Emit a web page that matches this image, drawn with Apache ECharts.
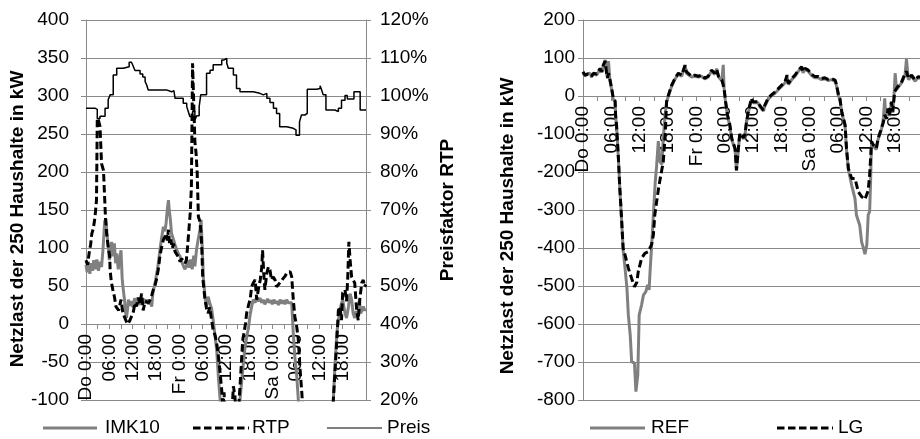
<!DOCTYPE html>
<html>
<head>
<meta charset="utf-8">
<script src="https://cdn.jsdelivr.net/npm/echarts@6/dist/echarts.min.js"></script>
<style>
  html, body { margin: 0; padding: 0; background: #fff; }
  #chart { width: 920px; height: 439px; }
</style>
</head>
<body>
<div id="chart"></div>
<script>
// Time axis: hours since Thursday 0:00, labelled every 6 h
const hourTicks = ['Do 0:00', '06:00', '12:00', '18:00', 'Fr 0:00', '06:00', '12:00', '18:00', 'Sa 0:00', '06:00', '12:00', '18:00'];

// Left panel: net load (kW) and price factor (%)
const imk10 = [[0,78],[0.3,68],[0.6,82],[1.0,66],[1.3,80],[1.7,70],[2.0,84],[2.4,72],[2.8,85],[3.2,70],[3.6,82],[4.0,75],[4.4,100],[4.8,135],[5.1,138],[5.4,120],[5.7,102],[6.0,84],[6.4,100],[6.6,108],[6.9,89],[7.3,106],[7.6,80],[7.9,93],[8.3,72],[8.6,85],[9.0,97],[9.3,60],[9.5,49],[9.9,32],[10.2,15],[10.4,8],[10.7,20],[10.9,32],[11.3,24],[11.7,30],[12.1,22],[12.5,34],[12.9,27],[13.3,33],[13.7,25],[14.1,32],[14.5,28],[14.9,33],[15.3,27],[15.7,32],[16.1,26],[16.5,30],[16.9,23],[17.2,41],[17.6,50],[17.9,58],[18.3,70],[18.6,80],[19.0,97],[19.4,112],[19.9,128],[20.3,122],[20.6,133],[20.9,150],[21.2,163],[21.4,150],[21.7,137],[22.0,119],[22.5,111],[22.9,104],[23.4,97],[23.8,92],[24.2,89],[24.6,82],[25.1,81],[25.4,72],[25.8,76],[26.2,84],[26.5,74],[26.9,85],[27.3,72],[27.7,90],[28.0,76],[28.4,97],[28.8,110],[29.3,124],[29.6,137],[29.9,100],[30.2,60],[30.6,36],[31.0,23],[31.4,36],[31.8,28],[32.3,20],[32.7,5],[33.1,-12],[33.6,-34],[34.1,-74],[34.5,-100],[35.0,-140],[37.0,-170],[39.0,-140],[39.6,-100],[40.3,-60],[40.9,-30],[41.4,-15],[41.8,-4],[42.2,12],[42.6,23],[43.0,32],[43.5,28],[43.9,36],[44.3,30],[44.8,34],[45.2,28],[45.6,32],[46.0,26],[46.3,27],[46.7,33],[47.1,28],[47.5,31],[47.9,26],[48.3,32],[48.7,27],[49.1,30],[49.5,25],[49.9,32],[50.4,27],[50.8,31],[51.2,26],[51.6,32],[52.0,28],[52.5,30],[52.9,28],[53.3,-12],[53.7,-43],[54.2,-69],[54.6,-100],[55.5,-160],[60.0,-200],[63.0,-150],[63.6,-100],[64.0,-56],[64.5,-12],[64.9,5],[65.5,23],[66.0,32],[66.6,14],[67.0,8],[67.5,23],[67.9,40],[68.3,32],[68.7,14],[69.1,8],[69.5,17],[69.9,10],[70.3,32],[70.6,14],[71.0,18],[71.3,23],[71.7,18],[72,20]];

const rtp = [[0,84],[0.4,78],[0.8,93],[1.2,105],[1.5,119],[1.9,126],[2.3,140],[2.7,163],[2.9,271],[3.2,268],[3.6,260],[4.0,211],[4.5,202],[5.0,141],[5.3,119],[5.7,102],[6.1,89],[6.2,71],[6.5,56],[6.9,45],[7.3,36],[7.7,23],[8.4,18],[9.0,32],[9.5,14],[10.0,8],[10.4,3],[10.8,0],[11.3,5],[11.7,10],[12.1,14],[12.6,28],[13.0,23],[13.4,35],[13.9,27],[14.3,40],[14.7,18],[15.2,30],[15.6,32],[16.1,28],[16.5,32],[16.9,38],[17.3,45],[17.7,50],[18.1,58],[18.6,72],[19.0,89],[19.4,100],[19.9,111],[20.3,115],[20.6,119],[20.9,110],[21.2,124],[21.5,105],[21.8,111],[22.2,100],[22.5,106],[22.9,95],[23.4,97],[23.8,88],[24.2,82],[24.6,86],[25.1,86],[25.5,80],[25.8,84],[26.1,100],[26.4,120],[26.8,146],[27.1,180],[27.4,343],[28.0,240],[28.3,225],[28.6,198],[28.9,141],[29.3,135],[29.6,119],[29.8,97],[30.0,62],[30.6,32],[31.0,20],[31.4,14],[31.8,22],[32.3,5],[32.7,-8],[33.2,-15],[33.6,-25],[34.0,-40],[34.5,-65],[34.9,-87],[35.2,-110],[35.5,-90],[35.8,-130],[37.0,-150],[37.6,-110],[37.9,-82],[38.3,-95],[38.6,-130],[39.2,-115],[39.5,-90],[39.8,-65],[40.3,-21],[40.6,-12],[41.0,0],[41.3,14],[41.8,25],[42.2,32],[42.6,49],[43.0,54],[43.5,58],[43.9,32],[44.3,45],[44.8,58],[45.2,75],[45.4,97],[45.7,67],[46.0,45],[46.5,67],[46.9,75],[47.3,71],[47.7,58],[48.1,62],[48.6,58],[49.0,49],[49.5,52],[49.9,54],[50.3,57],[50.7,60],[51.2,63],[51.6,67],[52.0,65],[52.5,69],[52.9,62],[53.3,32],[53.7,10],[54.2,-4],[54.6,-21],[55.0,-56],[55.5,-91],[56.0,-130],[60.0,-180],[63.2,-130],[63.6,-100],[64.0,-65],[64.5,-21],[64.9,18],[65.3,23],[65.7,5],[66.0,41],[66.6,45],[67.0,30],[67.3,60],[67.6,108],[67.9,85],[68.3,62],[68.7,58],[69.1,54],[69.6,18],[70.0,5],[70.4,32],[70.9,54],[71.3,58],[71.6,49],[72,52]];

// Price factor in percent, changes stepwise
const preis = [[0,96.8],[2.3,96.5],[2.9,94.1],[3.6,94.7],[4.9,96.8],[5.7,99.0],[6.2,100.3],[7.0,105.5],[7.9,107.3],[9.6,107.7],[11.1,108.9],[11.7,109.0],[12.2,107.7],[12.6,106.7],[13.9,105.8],[14.6,105.0],[15.2,103.8],[15.6,102.9],[16.0,101.6],[20.7,101.4],[21.2,101.1],[22.0,101.4],[22.6,101.1],[22.9,99.4],[25.0,98.1],[25.9,97.2],[26.3,95.9],[26.7,94.6],[27.4,95.9],[28.0,93.7],[28.5,94.8],[29.1,97.2],[29.5,100.3],[31.0,106.0],[31.9,106.8],[32.7,108.2],[34.9,109.5],[35.5,109.9],[36.2,108.6],[36.6,107.3],[37.9,105.5],[38.7,102.0],[39.6,101.1],[43.0,100.7],[44.7,100.3],[45.6,100.7],[46.5,99.4],[47.3,98.3],[48.2,96.8],[49.0,95.4],[49.8,91.9],[51.6,91.5],[53.3,91.1],[54.0,89.7],[54.9,93.2],[55.4,95.0],[56.3,95.4],[56.9,101.8],[59.3,102.0],[60.2,102.7],[60.6,101.6],[61.0,100.3],[61.7,96.3],[64.0,95.9],[64.9,96.8],[65.7,98.9],[66.6,100.1],[67.2,99.2],[68.9,101.1],[70.5,96.3],[72,96.3]];

// Right panel: net load (kW)
const ref = [[0,62],[0.4,52],[0.8,58],[1.1,55],[1.5,60],[1.8,50],[2.2,58],[2.5,62],[2.9,55],[3.2,52],[3.6,70],[4.0,62],[4.3,80],[4.7,95],[5.0,58],[5.2,46],[5.4,92],[5.7,40],[6.1,15],[6.4,-8],[6.8,-15],[6.9,-52],[7.1,-78],[7.5,-166],[7.8,-245],[8.2,-333],[8.5,-405],[8.9,-453],[9.3,-505],[9.6,-576],[10.0,-629],[10.3,-699],[10.9,-703],[11.2,-778],[11.6,-735],[11.9,-576],[12.4,-550],[12.8,-524],[13.3,-515],[13.7,-497],[14.0,-510],[14.2,-462],[14.5,-401],[14.9,-313],[15.3,-226],[15.6,-182],[15.95,-119],[16.3,-173],[16.7,-180],[17.0,-110],[17.4,-50],[17.7,-15],[18.1,0],[18.8,27],[19.5,45],[20.2,57],[20.9,52],[21.6,82],[21.9,60],[22.3,65],[23.0,50],[23.7,52],[24.4,50],[25.1,52],[25.8,45],[26.5,50],[27.2,65],[27.9,57],[28.3,72],[28.7,50],[29.0,52],[29.4,40],[29.7,82],[29.9,15],[30.2,-18],[30.6,-53],[31.1,-80],[31.5,-115],[32.2,-140],[32.5,-197],[32.9,-140],[33.2,-100],[33.6,-106],[34.0,-113],[34.3,-103],[34.6,-73],[35.0,-44],[35.4,-23],[35.7,-9],[36.0,-18],[36.4,-22],[37.1,-18],[37.4,-27],[38.2,-40],[38.5,-27],[39.2,-9],[39.9,0],[40.7,8],[41.4,17],[42.1,26],[42.8,35],[43.2,52],[43.5,30],[44.2,43],[44.9,52],[45.6,65],[46.0,70],[46.3,74],[46.6,61],[47.0,70],[47.7,65],[48.4,54],[49.1,48],[49.8,48],[50.5,43],[51.2,45],[51.9,41],[52.6,43],[53.4,39],[53.7,26],[54.1,0],[54.4,-9],[54.8,-44],[55.5,-79],[55.8,-141],[56.2,-194],[56.9,-235],[57.6,-270],[57.9,-313],[58.6,-340],[59.0,-384],[59.4,-401],[59.7,-416],[60.1,-392],[60.4,-313],[60.7,-304],[60.9,-226],[61.1,-123],[61.5,-132],[62.1,-141],[62.5,-114],[63.2,-88],[63.6,-60],[63.9,-6],[64.1,-55],[64.6,-36],[64.9,-53],[65.3,-18],[65.6,-44],[65.9,10],[66.1,60],[66.4,17],[66.8,21],[67.5,35],[68.2,56],[68.5,97],[68.9,43],[69.6,52],[70.3,39],[71.0,48],[71.4,43],[72,45]];

const lg = [[0,64],[0.4,55],[0.8,60],[1.1,58],[1.5,62],[1.8,52],[2.2,60],[2.5,64],[2.9,58],[3.2,55],[3.6,72],[4.0,65],[4.3,81],[4.7,92],[5.0,60],[5.2,48],[5.4,60],[5.7,44],[6.1,18],[6.4,-5],[6.8,-13],[6.9,-50],[7.1,-76],[7.5,-164],[7.8,-243],[8.2,-331],[8.5,-401],[8.9,-418],[9.6,-453],[10.3,-480],[10.9,-502],[11.4,-490],[11.7,-462],[12.4,-427],[13.1,-414],[13.8,-410],[14.5,-392],[14.9,-366],[15.2,-313],[15.6,-278],[16.0,-243],[16.3,-221],[16.7,-218],[17.0,-173],[17.4,-103],[17.7,-15],[18.1,3],[18.8,29],[19.5,47],[20.2,60],[20.9,55],[21.6,80],[21.9,64],[22.3,68],[23.0,52],[23.7,55],[24.4,52],[25.1,55],[25.8,47],[26.5,52],[27.2,68],[27.9,60],[28.3,70],[28.7,52],[29.0,55],[29.4,43],[29.7,45],[29.9,18],[30.2,-15],[30.6,-50],[31.1,-76],[31.5,-111],[32.2,-138],[32.5,-195],[32.9,-138],[33.2,-98],[33.6,-103],[34.0,-110],[34.3,-100],[34.6,-70],[35.0,-41],[35.4,-20],[35.7,-6],[36.0,-15],[36.4,-19],[37.1,-15],[37.4,-24],[38.2,-37],[38.5,-24],[39.2,-6],[39.9,3],[40.7,11],[41.4,20],[42.1,29],[42.8,38],[43.2,55],[43.5,33],[44.2,46],[44.9,55],[45.6,68],[46.0,73],[46.3,77],[46.6,64],[47.0,73],[47.7,68],[48.4,57],[49.1,51],[49.8,51],[50.5,46],[51.2,48],[51.9,44],[52.6,46],[53.4,42],[53.7,29],[54.1,3],[54.4,-6],[54.8,-41],[55.5,-76],[55.8,-138],[56.2,-191],[56.9,-217],[57.6,-217],[58.3,-252],[59.0,-265],[59.7,-272],[60.1,-268],[60.4,-248],[60.7,-208],[60.9,-164],[61.1,-120],[61.5,-129],[62.1,-138],[62.5,-111],[63.2,-85],[63.6,-70],[63.9,-50],[64.3,-60],[64.6,-33],[64.9,-50],[65.3,-15],[65.6,-41],[66.0,11],[66.4,20],[66.8,24],[67.5,38],[68.2,59],[68.5,65],[68.9,46],[69.6,55],[70.3,42],[71.0,51],[71.4,46],[72,48]];

const FONT = 'Liberation Sans, Arial, sans-serif';
const AXIS_GRAY = '#8a8a8a';
const GRAY = '#808080';
const DASH = [7.5, 3.5];

// Plot areas and the strips whose bottom edge sits on the zero line
const LEFT = { left: 86, top: 20, width: 280, height: 380 };
const RIGHT = { left: 583, top: 20, width: 340, height: 380 };
const LEFT_RANGE = [-100, 400];
const RIGHT_RANGE = [-800, 200];
function zeroStrip(box, range) {
  return {
    left: box.left, top: box.top, width: box.width,
    height: box.height * range[1] / (range[1] - range[0]),
    outerBoundsMode: 'none'
  };
}

// Data x axis (hidden) and labelled x axis running along y = 0
function dataTimeAxis(gridIndex) {
  return { type: 'value', gridIndex: gridIndex, min: 0, max: 72, interval: 3, show: false };
}
function labelTimeAxis(gridIndex) {
  return {
    type: 'value', gridIndex: gridIndex, min: 0, max: 72, interval: 3, position: 'bottom',
    axisLine: { show: true, onZero: false, lineStyle: { color: AXIS_GRAY, width: 1 } },
    axisTick: { show: true, length: 5, lineStyle: { color: AXIS_GRAY } },
    splitLine: { show: false },
    axisLabel: {
      rotate: 90, margin: 10, fontSize: 19, color: '#000', fontFamily: FONT,
      formatter: function (v) { return (v % 6 === 0 && hourTicks[v / 6]) ? hourTicks[v / 6] : ''; }
    }
  };
}

function loadAxis(gridIndex, range, step, margin, nameGap, shiftDown) {
  return {
    type: 'value', gridIndex: gridIndex, min: range[0], max: range[1], interval: step, position: 'left',
    name: 'Netzlast der 250 Haushalte in kW', nameLocation: 'middle', nameRotate: 90, nameGap: nameGap,
    nameTextStyle: { fontSize: 19, fontWeight: 'bold', color: '#000', fontFamily: FONT, padding: [0, shiftDown * 2, 0, 0] },
    axisLine: { show: true, onZero: false, lineStyle: { color: AXIS_GRAY } },
    axisTick: { show: true, length: 5, lineStyle: { color: AXIS_GRAY } },
    splitLine: { show: true, lineStyle: { color: AXIS_GRAY, width: 1 } },
    axisLabel: { fontSize: 19, color: '#000', fontFamily: FONT, margin: margin }
  };
}

// Legend entries: [label, colour, width, dash, line start x, line end x, text x]
const legendItems = [
  ['IMK10', GRAY, 3, null, 43, 97, 105],
  ['RTP', '#000', 3, DASH, 193, 249, 252],
  ['Preis', '#000', 1.2, null, 327, 382, 387],
  ['REF', GRAY, 3, null, 590, 645, 651],
  ['LG', '#000', 3, DASH, 777, 833, 838]
];
const LEGEND_Y = 428;
const legendGraphics = [];
legendItems.forEach(function (it) {
  legendGraphics.push({
    type: 'line', shape: { x1: it[4], y1: LEGEND_Y, x2: it[5], y2: LEGEND_Y },
    style: { stroke: it[1], lineWidth: it[2], lineDash: it[3] || null }
  });
  legendGraphics.push({
    type: 'text', x: it[6], y: LEGEND_Y,
    style: { text: it[0], fill: '#000', font: '19px ' + FONT, verticalAlign: 'middle', align: 'left' }
  });
});

const chart = echarts.init(document.getElementById('chart'), null, { renderer: 'canvas' });
chart.setOption({
  animation: false,
  backgroundColor: '#fff',
  textStyle: { fontFamily: FONT },
  grid: [
    Object.assign({ outerBoundsMode: 'none' }, LEFT),
    Object.assign({ outerBoundsMode: 'none' }, RIGHT),
    zeroStrip(LEFT, LEFT_RANGE),
    zeroStrip(RIGHT, RIGHT_RANGE)
  ],
  xAxis: [dataTimeAxis(0), dataTimeAxis(1), labelTimeAxis(2), labelTimeAxis(3)],
  yAxis: [
    loadAxis(0, LEFT_RANGE, 50, 17, 58, 9),
    {
      type: 'value', gridIndex: 0, min: 20, max: 120, interval: 10, position: 'right',
      name: 'Preisfaktor RTP', nameLocation: 'middle', nameRotate: 90, nameGap: 72,
      nameTextStyle: { fontSize: 19, fontWeight: 'bold', color: '#000', fontFamily: FONT },
      axisLine: { show: true, onZero: false, lineStyle: { color: AXIS_GRAY } },
      axisTick: { show: true, length: 5, lineStyle: { color: AXIS_GRAY } },
      splitLine: { show: false },
      axisLabel: { fontSize: 19, color: '#000', fontFamily: FONT, margin: 14, formatter: '{value}%' }
    },
    loadAxis(1, RIGHT_RANGE, 100, 8, 66, 16),
    { type: 'value', gridIndex: 2, min: 0, max: 1, show: false },
    { type: 'value', gridIndex: 3, min: 0, max: 1, show: false }
  ],
  graphic: legendGraphics,
  series: [
    { name: 'IMK10', type: 'line', xAxisIndex: 0, yAxisIndex: 0, data: imk10, symbol: 'none',
      lineStyle: { color: GRAY, width: 3 }, itemStyle: { color: GRAY } },
    { name: 'RTP', type: 'line', xAxisIndex: 0, yAxisIndex: 0, data: rtp, symbol: 'none',
      lineStyle: { color: '#000', width: 3, type: DASH }, itemStyle: { color: '#000' } },
    { name: 'Preis', type: 'line', xAxisIndex: 0, yAxisIndex: 1, data: preis, symbol: 'none', step: 'end',
      lineStyle: { color: '#000', width: 1.5 }, itemStyle: { color: '#000' } },
    { name: 'REF', type: 'line', xAxisIndex: 1, yAxisIndex: 2, data: ref, symbol: 'none',
      lineStyle: { color: GRAY, width: 3 }, itemStyle: { color: GRAY } },
    { name: 'LG', type: 'line', xAxisIndex: 1, yAxisIndex: 2, data: lg, symbol: 'none',
      lineStyle: { color: '#000', width: 3, type: DASH }, itemStyle: { color: '#000' } }
  ]
});
</script>
</body>
</html>
